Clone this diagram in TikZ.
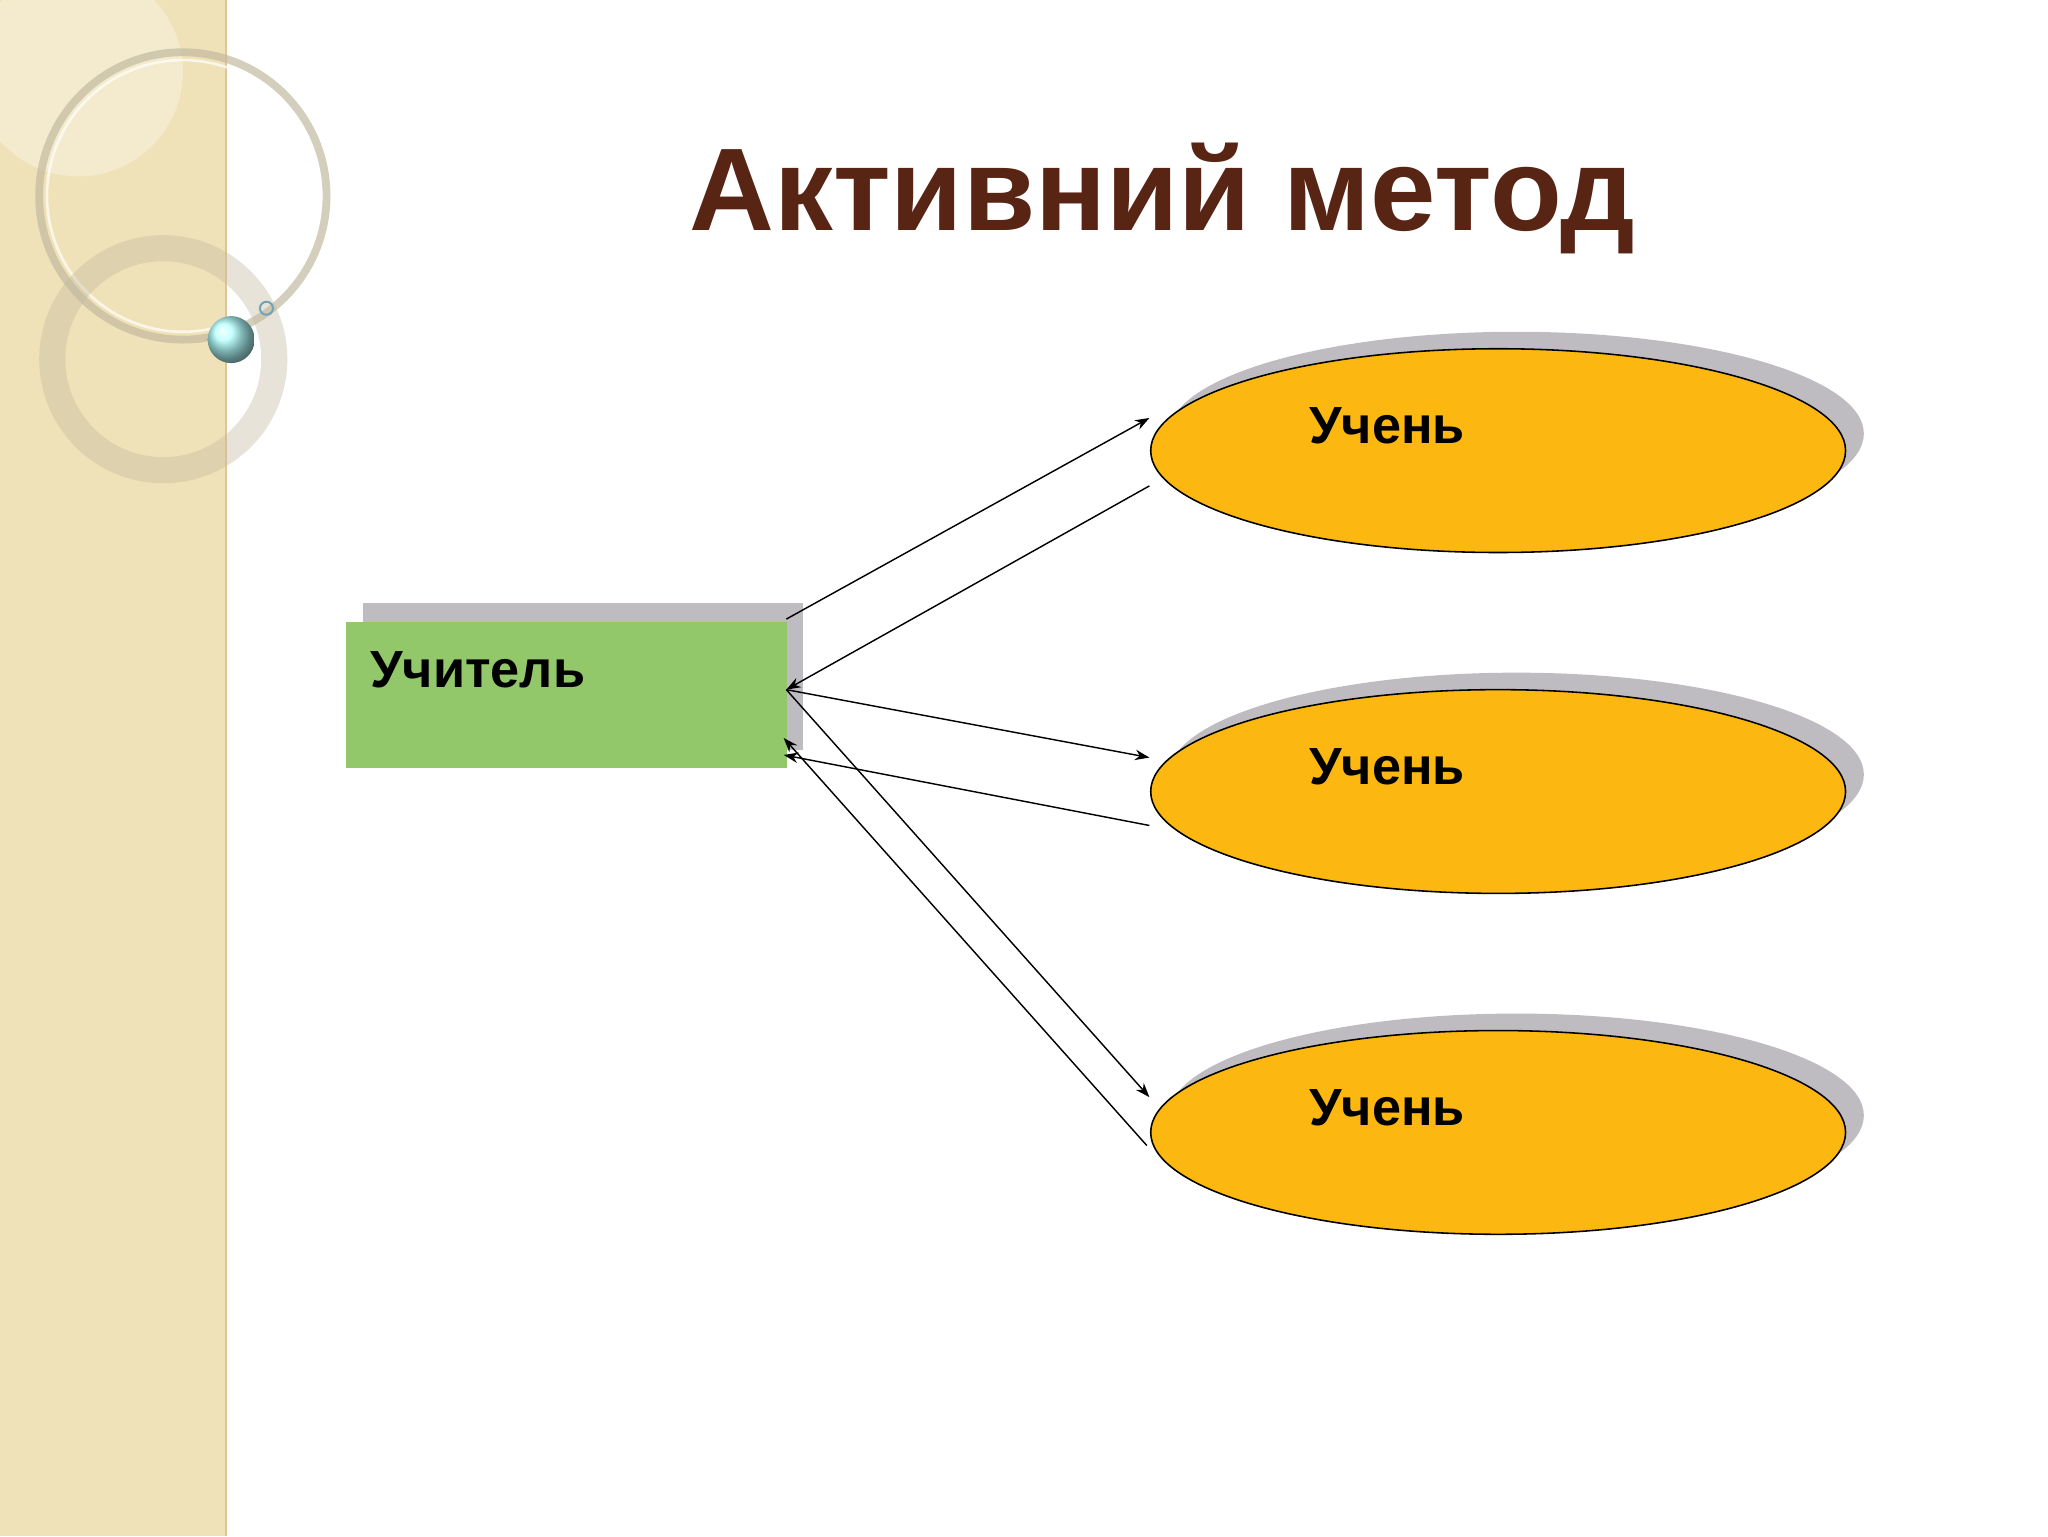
\documentclass[tikz,border=0pt]{standalone}
\usepackage{fontspec}
\setmainfont{Liberation Sans}
\usetikzlibrary{arrows.meta}
\definecolor{beige}{RGB}{240,226,184}
\definecolor{titlec}{RGB}{88,36,20}
\definecolor{greenbox}{RGB}{146,200,106}
\definecolor{orangeb}{RGB}{252,184,16}
\definecolor{shadowg}{RGB}{190,188,192}
\tikzset{x=1pt,y=-1pt,
 arr/.style={-{Stealth[length=11,width=8]},line width=1.1},
 pupil/.style={ellipse,draw=black,line width=1.2,fill=orangeb,minimum width=532,minimum height=156,inner sep=0},
 lbl/.style={font=\bfseries\fontsize{40}{44}\selectfont}}
\usetikzlibrary{shapes.geometric}
\begin{document}
\begin{tikzpicture}
\useasboundingbox (0,0) rectangle (1568,1176);
\fill[white] (0,0) rectangle (1568,1176);
\fill[beige] (0,0) rectangle (173,1176);
\draw[color=beige!70!brown,line width=2] (173,0) -- (173,1176);
\fill[white,opacity=0.3] (60,55) circle (80);
\draw[color=beige!60!gray,line width=6,opacity=0.7] (140,150) circle (110);
\draw[color=white,line width=2,opacity=0.7] (140,150) circle (104);
\draw[color=beige!60!gray,line width=20,opacity=0.4] (125,275) circle (85);
\shade[ball color=cyan!30] (177,260) circle (18);
\draw[color=cyan!40!gray,line width=1.5] (204,236) circle (5);
\node[font=\bfseries\fontsize{90}{100}\selectfont,text=titlec] (title) at (890,152) {Активний метод};
% teacher
\fill[shadowg] (278,462) rectangle (615,574);
\node[draw=none,fill=greenbox,minimum width=337,minimum height=112,inner sep=0,anchor=north west] (t) at (265,476) {};
\node[lbl,anchor=west] (tl) at (280,513) {Учитель};
% pupils
\foreach \n/\y in {1/345,2/606,3/867}{
 \fill[shadowg] (1161,\y-13) ellipse (266 and 78);
 \node[pupil] (p\n) at (1147,\y) {};
 \node[lbl] (pl\n) at (1062,\y-19) {Учень};
}
\coordinate (a1) at (602,474); \coordinate (b1) at (880,320);
\coordinate (a2) at (880,372); \coordinate (b2) at (602,528);
\coordinate (a3) at (880,580);
\coordinate (a4) at (880,632); \coordinate (b4) at (600,578);
\coordinate (a5) at (880,840);
\coordinate (a6) at (878,877); \coordinate (b6) at (600,565);
\draw[arr] (a1) -- (b1);
\draw[arr] (a2) -- (b2);
\draw[arr] (b2) -- (a3);
\draw[arr] (a4) -- (b4);
\draw[arr] (b2) -- (a5);
\draw[arr] (a6) -- (b6);
\end{tikzpicture}
\end{document}
